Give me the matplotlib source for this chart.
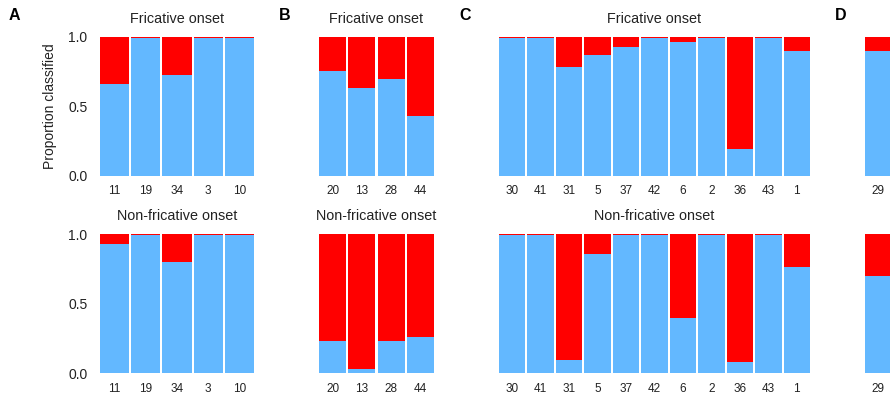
import matplotlib.pyplot as plt

plt.rcParams["font.family"] = ["Liberation Sans", "DejaVu Sans"]

BLUE = "#63B8FF"
RED = "#FF0000"

# proportion classified as the "blue" category, per speaker
a_labels = ["11", "19", "34", "3", "10"]
a_fric = [0.66, 0.99, 0.727, 0.99, 0.99]
a_nonfric = [0.928, 0.99, 0.80, 0.99, 0.99]

b_labels = ["20", "13", "28", "44"]
b_fric = [0.753, 0.63, 0.696, 0.43]
b_nonfric = [0.234, 0.033, 0.234, 0.263]

c_labels = ["30", "41", "31", "5", "37", "42", "6", "2", "36", "43", "1"]
c_fric = [0.99, 0.99, 0.782, 0.868, 0.926, 0.99, 0.962, 0.99, 0.192, 0.99, 0.897]
c_nonfric = [0.99, 0.99, 0.098, 0.856, 0.99, 0.99, 0.397, 0.99, 0.083, 0.99, 0.765]

d_labels = ["29"]
d_fric = [0.897]
d_nonfric = [0.70]

W, H = 890, 395
fig = plt.figure(figsize=(W / 100, H / 100), dpi=100)

BW = 0.93


def add_panel(x0, width_px, y_top, y_bot, labels, vals, title, unit=None, show_y=False):
    ax = fig.add_axes([x0 / W, (H - y_bot) / H, width_px / W, (y_bot - y_top) / H])
    n = len(labels)
    xs = list(range(n))
    ax.bar(xs, vals, width=BW, color=BLUE, linewidth=0)
    ax.bar(xs, [1 - v for v in vals], bottom=vals, width=BW, color=RED, linewidth=0)
    if unit is None:
        ax.set_xlim(-BW / 2, n - 1 + BW / 2)
    else:
        ax.set_xlim(-BW / 2, -BW / 2 + width_px / unit)
    ax.set_ylim(0, 1)
    ax.set_xticks(xs)
    ax.set_xticklabels(labels, fontsize=8.5, color="#222222")
    ax.tick_params(axis="x", length=0, pad=7)
    if show_y:
        ax.set_yticks([0, 0.5, 1.0])
        ax.set_yticklabels(["0.0", "0.5", "1.0"], fontsize=10, color="#222222")
        ax.tick_params(axis="y", length=0, pad=9)
    else:
        ax.set_yticks([])
    for s in ax.spines.values():
        s.set_visible(False)
    if title:
        ax.set_title(title, fontsize=10.4, color="#222222", pad=10)
    return ax


rows = [(36.7, 175.7, "Fricative onset"), (234, 373.3, "Non-fricative onset")]
for r, (yt, yb, title) in enumerate(rows):
    axA = add_panel(100, 154, yt, yb, a_labels, [a_fric, a_nonfric][r], title, show_y=True)
    add_panel(319, 115, yt, yb, b_labels, [b_fric, b_nonfric][r], title)
    add_panel(499, 311, yt, yb, c_labels, [c_fric, c_nonfric][r], title)
    # panel D is cut off by the right edge; its title lies outside the picture
    add_panel(865, 300, yt, yb, d_labels, [d_fric, d_nonfric][r], None, unit=28.5)
    if r == 0:
        axA.set_ylabel("Proportion classified", fontsize=10, color="#222222", labelpad=8)

for lab, x in [("A", 14), ("B", 285), ("C", 465), ("D", 841)]:
    fig.text(x / W, 1 - 16 / H, lab, fontsize=11.5, fontweight="bold", ha="center", va="center")

fig.savefig("out.png", dpi=100)
